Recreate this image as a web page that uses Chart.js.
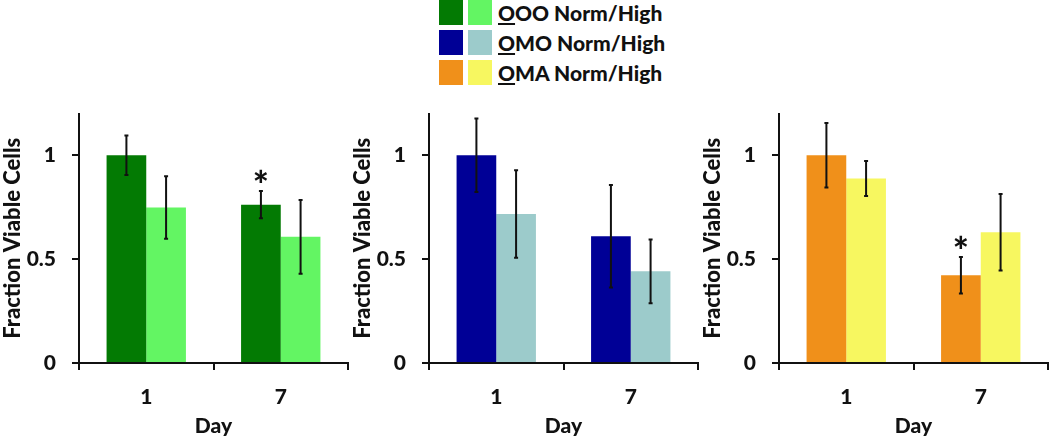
<!DOCTYPE html>
<html>
<head>
<meta charset="utf-8">
<script src="https://cdn.jsdelivr.net/npm/chart.js@4/dist/chart.umd.min.js"></script>
<style>
  body { margin: 0; width: 1050px; height: 439px; background: #fff; position: relative; overflow: hidden; font-family: Lato, sans-serif; }
  .panel { position: absolute; top: 85px; width: 350px; height: 354px; }
  .legend { position: absolute; left: 439px; top: 0; }
  .row { position: absolute; left: 0; height: 25px; white-space: nowrap; }
  .sw { position: absolute; top: 0; width: 24px; height: 25px; }
  .lab { position: absolute; left: 59px; top: 0; line-height: 25px; font-weight: 900; font-size: 21px; color: #111; }
</style>
</head>
<body>
<div class="legend">
  <div class="row" style="top:0"><div class="sw" style="left:0;background:#037a03"></div><div class="sw" style="left:29px;background:#63f563"></div><div class="lab"><u>O</u>OO Norm/High</div></div>
  <div class="row" style="top:30px"><div class="sw" style="left:0;background:#000096"></div><div class="sw" style="left:29px;background:#9ccbcb"></div><div class="lab"><u>O</u>MO Norm/High</div></div>
  <div class="row" style="top:60px"><div class="sw" style="left:0;background:#f0901a"></div><div class="sw" style="left:29px;background:#f7f760"></div><div class="lab"><u>O</u>MA Norm/High</div></div>
</div>
<div class="panel" style="left:0"><canvas id="c1" width="350" height="354"></canvas></div>
<div class="panel" style="left:350px"><canvas id="c2" width="350" height="354"></canvas></div>
<div class="panel" style="left:700px"><canvas id="c3" width="350" height="354"></canvas></div>
<script>
// data
const days = ["1", "7"];
const yTicks = [0, 0.5, 1];

const oooNorm = [1.0, 0.762];
const oooNormErr = [0.095, 0.066];
const oooHigh = [0.748, 0.607];
const oooHighErr = [0.15, 0.177];
const oooNormStar = [false, true];

const omoNorm = [1.0, 0.61];
const omoNormErr = [0.177, 0.247];
const omoHigh = [0.717, 0.441];
const omoHighErr = [0.21, 0.153];

const omaNorm = [1.0, 0.422];
const omaNormErr = [0.155, 0.088];
const omaHigh = [0.888, 0.629];
const omaHighErr = [0.084, 0.184];
const omaNormStar = [false, true];

const FONT = "Lato, sans-serif";
const tickFont = { family: FONT, size: 21, weight: "900" };

// error bars + significance stars, positioned with the chart's own scales
const errorBars = {
    id: "errorBars",
    afterDatasetsDraw(chart) {
        const ctx = chart.ctx;
        const y = chart.scales.y;
        chart.data.datasets.forEach((ds, i) => {
            const meta = chart.getDatasetMeta(i);
            meta.data.forEach((bar, j) => {
                const v = ds.data[j];
                const e = ds.errors[j];
                const top = y.getPixelForValue(v + e);
                const bot = y.getPixelForValue(v - e);
                ctx.save();
                ctx.strokeStyle = "#111";
                ctx.lineWidth = 2;
                ctx.beginPath();
                ctx.moveTo(bar.x, top); ctx.lineTo(bar.x, bot);
                ctx.moveTo(bar.x - 2, top); ctx.lineTo(bar.x + 2, top);
                ctx.moveTo(bar.x - 2, bot); ctx.lineTo(bar.x + 2, bot);
                ctx.stroke();
                if (ds.stars && ds.stars[j]) {
                    ctx.fillStyle = "#111";
                    ctx.font = "900 38px " + FONT;
                    ctx.textAlign = "center";
                    ctx.textBaseline = "alphabetic";
                    ctx.fillText("*", bar.x, top + 8);
                }
                ctx.restore();
            });
        });
    }
};

function makePanel(id, sets) {
    const ctx = document.getElementById(id).getContext("2d");
    return new Chart(ctx, {
        type: "bar",
        data: {
            labels: days,
            datasets: sets.map(s => ({
                data: s.data,
                errors: s.err,
                stars: s.stars,
                backgroundColor: s.color,
                borderWidth: 0,
                categoryPercentage: 0.59,
                barPercentage: 1.0,
            })),
        },
        plugins: [errorBars],
        options: {
            responsive: false,
            animation: false,
            layout: { padding: { top: 10, right: 2, left: 0, bottom: 0 } },
            plugins: { legend: { display: false }, tooltip: { enabled: false } },
            scales: {
                x: {
                    grid: { display: true, drawOnChartArea: false, drawTicks: true, tickLength: 7, color: "#111", lineWidth: 2, offset: true },
                    border: { color: "#111", width: 2 },
                    ticks: { color: "#111", font: tickFont, padding: 15 },
                    title: { display: true, text: "Day", color: "#111", font: tickFont, padding: 0 },
                    afterFit(scale) { scale.height = 76; },
                },
                y: {
                    min: 0,
                    max: 1.2,
                    afterBuildTicks(scale) { scale.ticks = yTicks.map(v => ({ value: v })); },
                    grid: { display: true, drawOnChartArea: false, drawTicks: true, tickLength: 7, color: "#111", lineWidth: 2 },
                    border: { color: "#111", width: 2 },
                    ticks: { color: "#111", font: tickFont, padding: 16, callback: v => String(v) },
                    title: { display: true, text: "Fraction Viable Cells", color: "#111", font: { family: FONT, size: 22, weight: "900" }, padding: 0 },
                    afterFit(scale) { scale.width = 79; },
                },
            },
        },
    });
}

makePanel("c1", [
    { data: oooNorm, err: oooNormErr, stars: oooNormStar, color: "#037a03" },
    { data: oooHigh, err: oooHighErr, color: "#63f563" },
]);
makePanel("c2", [
    { data: omoNorm, err: omoNormErr, color: "#000096" },
    { data: omoHigh, err: omoHighErr, color: "#9ccbcb" },
]);
makePanel("c3", [
    { data: omaNorm, err: omaNormErr, stars: omaNormStar, color: "#f0901a" },
    { data: omaHigh, err: omaHighErr, color: "#f7f760" },
]);
</script>
</body>
</html>
